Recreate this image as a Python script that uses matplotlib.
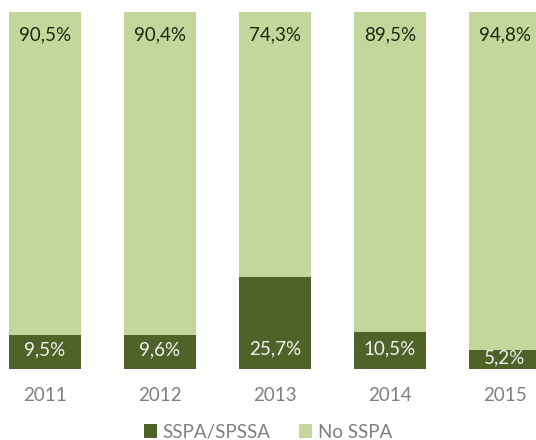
import matplotlib.pyplot as plt
import numpy as np

years = ['2011', '2012', '2013', '2014', '2015']
sspa = [9.5, 9.6, 25.7, 10.5, 5.2]
no_sspa = [90.5, 90.4, 74.3, 89.5, 94.8]

dark = '#4F6228'
light = '#C3D69B'

plt.rcParams['font.family'] = ['Lato', 'DejaVu Sans']

W, H = 536, 440
fig = plt.figure(figsize=(W / 100, H / 100), dpi=100)
# axes spans beyond the right edge, last bar gets clipped like the original
left_px, right_px = -12.5, 562.5
top_px, bottom_px = 12, 369
ax = fig.add_axes([left_px / W, 1 - bottom_px / H, (right_px - left_px) / W, (bottom_px - top_px) / H])

x = np.arange(len(years))
b1 = ax.bar(x, sspa, width=0.63, color=dark, label='SSPA/SPSSA')
b2 = ax.bar(x, no_sspa, width=0.63, bottom=sspa, color=light, label='No SSPA')

ax.set_xlim(-0.5, len(years) - 0.5)
ax.set_ylim(0, 100)
ax.axis('off')

for i in range(len(years)):
    ax.text(x[i], min(sspa[i] / 2 + 0.6, 5.6), f'{sspa[i]:.1f}%'.replace('.', ','),
            ha='center', va='center', color='#F2F2F2', fontsize=13.5)
    ax.text(x[i], 93.5, f'{no_sspa[i]:.1f}%'.replace('.', ','),
            ha='center', va='center', color='#1E2A10', fontsize=13.5)
    ax.text(x[i], -7.3, years[i], ha='center', va='center', color='#7F7F7F', fontsize=13.5)

fig.legend(handles=[b1, b2], loc='center', bbox_to_anchor=(0.5, 1 - 432 / H),
           ncol=2, frameon=False, fontsize=13.5, labelcolor='#7F7F7F',
           handlelength=0.7, handleheight=0.7, handletextpad=0.3, columnspacing=1.5)

fig.savefig('out.png', dpi=100)
